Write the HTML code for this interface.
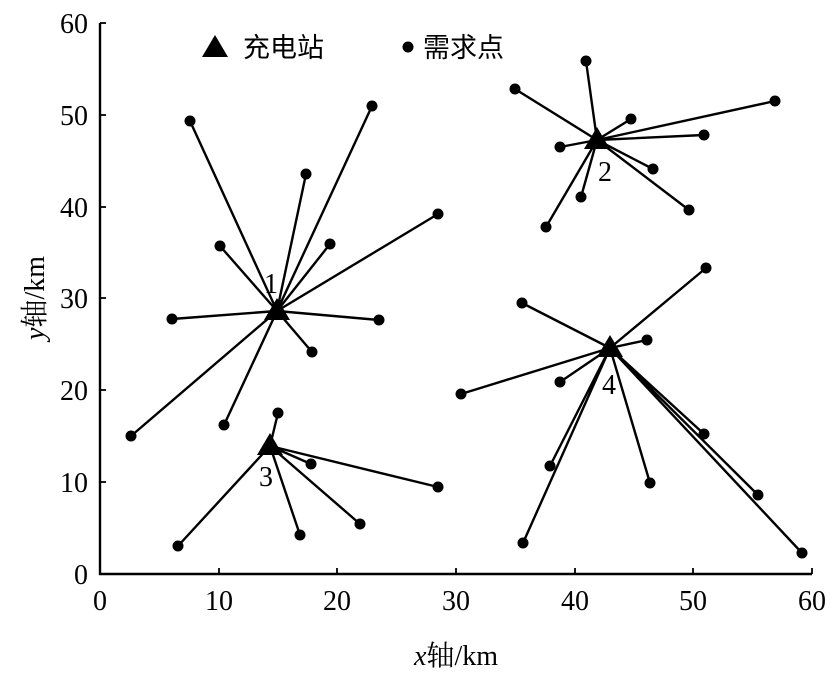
<!DOCTYPE html>
<html><head><meta charset="utf-8"><style>body{margin:0;background:#fff}</style></head><body>
<svg width="837" height="681" xmlns="http://www.w3.org/2000/svg" font-family="'Liberation Serif','Noto Serif CJK SC',serif">
<rect width="837" height="681" fill="#fff"/>
<g stroke="#000" stroke-width="2.4" fill="none">
<line x1="100" y1="23" x2="100" y2="575"/>
<line x1="99" y1="574" x2="812" y2="574"/>
<g stroke-width="1.8">
<line x1="219" y1="574" x2="219" y2="568"/><line x1="337" y1="574" x2="337" y2="568"/><line x1="456" y1="574" x2="456" y2="568"/><line x1="575" y1="574" x2="575" y2="568"/><line x1="693" y1="574" x2="693" y2="568"/><line x1="812" y1="574" x2="812" y2="568"/>
<line x1="100" y1="482" x2="106" y2="482"/><line x1="100" y1="390" x2="106" y2="390"/><line x1="100" y1="298" x2="106" y2="298"/><line x1="100" y1="207" x2="106" y2="207"/><line x1="100" y1="115" x2="106" y2="115"/><line x1="100" y1="23" x2="106" y2="23"/>
</g>
<path d="M277 311L190 121M277 311L372 106M277 311L306 174M277 311L438 214M277 311L220 246M277 311L330 244M277 311L172 319M277 311L379 320M277 311L312 352M277 311L224 425M277 311L131 436
M597 140L515 89M597 140L586 61M597 140L775 101M597 140L631 119M597 140L704 135M597 140L560 147M597 140L653 169M597 140L581 197M597 140L689 210M597 140L546 227
M270 446L278 413M270 446L311 464M270 446L438 487M270 446L360 524M270 446L300 535M270 446L178 546
M610 348L706 268M610 348L522 303M610 348L647 340M610 348L560 382M610 348L461 394M610 348L704 434M610 348L550 466M610 348L650 483M610 348L758 495M610 348L523 543M610 348L802 553"/>
</g>
<g fill="#000">
<circle cx="190" cy="121" r="5.5"/><circle cx="372" cy="106" r="5.5"/><circle cx="306" cy="174" r="5.5"/><circle cx="438" cy="214" r="5.5"/><circle cx="220" cy="246" r="5.5"/><circle cx="330" cy="244" r="5.5"/><circle cx="172" cy="319" r="5.5"/><circle cx="379" cy="320" r="5.5"/><circle cx="312" cy="352" r="5.5"/><circle cx="224" cy="425" r="5.5"/><circle cx="131" cy="436" r="5.5"/>
<circle cx="515" cy="89" r="5.5"/><circle cx="586" cy="61" r="5.5"/><circle cx="775" cy="101" r="5.5"/><circle cx="631" cy="119" r="5.5"/><circle cx="704" cy="135" r="5.5"/><circle cx="560" cy="147" r="5.5"/><circle cx="653" cy="169" r="5.5"/><circle cx="581" cy="197" r="5.5"/><circle cx="689" cy="210" r="5.5"/><circle cx="546" cy="227" r="5.5"/>
<circle cx="278" cy="413" r="5.5"/><circle cx="311" cy="464" r="5.5"/><circle cx="438" cy="487" r="5.5"/><circle cx="360" cy="524" r="5.5"/><circle cx="300" cy="535" r="5.5"/><circle cx="178" cy="546" r="5.5"/>
<circle cx="706" cy="268" r="5.5"/><circle cx="522" cy="303" r="5.5"/><circle cx="647" cy="340" r="5.5"/><circle cx="560" cy="382" r="5.5"/><circle cx="461" cy="394" r="5.5"/><circle cx="704" cy="434" r="5.5"/><circle cx="550" cy="466" r="5.5"/><circle cx="650" cy="483" r="5.5"/><circle cx="758" cy="495" r="5.5"/><circle cx="523" cy="543" r="5.5"/><circle cx="802" cy="553" r="5.5"/>
<path d="M277 298L290 320L264 320Z"/><path d="M597 127L610 149L584 149Z"/><path d="M270 433L283 455L257 455Z"/><path d="M610 335L623 357L597 357Z"/>
<path d="M215 35L228 57L202 57Z"/><circle cx="408" cy="47" r="5.5"/>
</g>
<g font-size="28" fill="#000">
<text x="243" y="57" font-family="'Noto Sans CJK SC',sans-serif" font-size="27">充电站</text>
<text x="423" y="57" font-family="'Noto Sans CJK SC',sans-serif" font-size="27">需求点</text>
<text x="264" y="293">1</text><text x="598" y="181">2</text><text x="259" y="486">3</text><text x="602" y="394">4</text>
<g text-anchor="middle">
<text x="100" y="610">0</text><text x="219" y="610">10</text><text x="337" y="610">20</text><text x="456" y="610">30</text><text x="575" y="610">40</text><text x="693" y="610">50</text><text x="812" y="610">60</text>
</g>
<g text-anchor="end">
<text x="88" y="584">0</text><text x="88" y="492">10</text><text x="88" y="400">20</text><text x="88" y="308">30</text><text x="88" y="217">40</text><text x="88" y="125">50</text><text x="88" y="33">60</text>
</g>
<text x="456" y="665" text-anchor="middle"><tspan font-style="italic">x</tspan><tspan font-family="'Noto Serif CJK SC',serif">轴</tspan>/km</text>
<text transform="translate(44 298) rotate(-90)" text-anchor="middle"><tspan font-style="italic">y</tspan><tspan font-family="'Noto Serif CJK SC',serif">轴</tspan>/km</text>
</g>
</svg>
</body></html>
